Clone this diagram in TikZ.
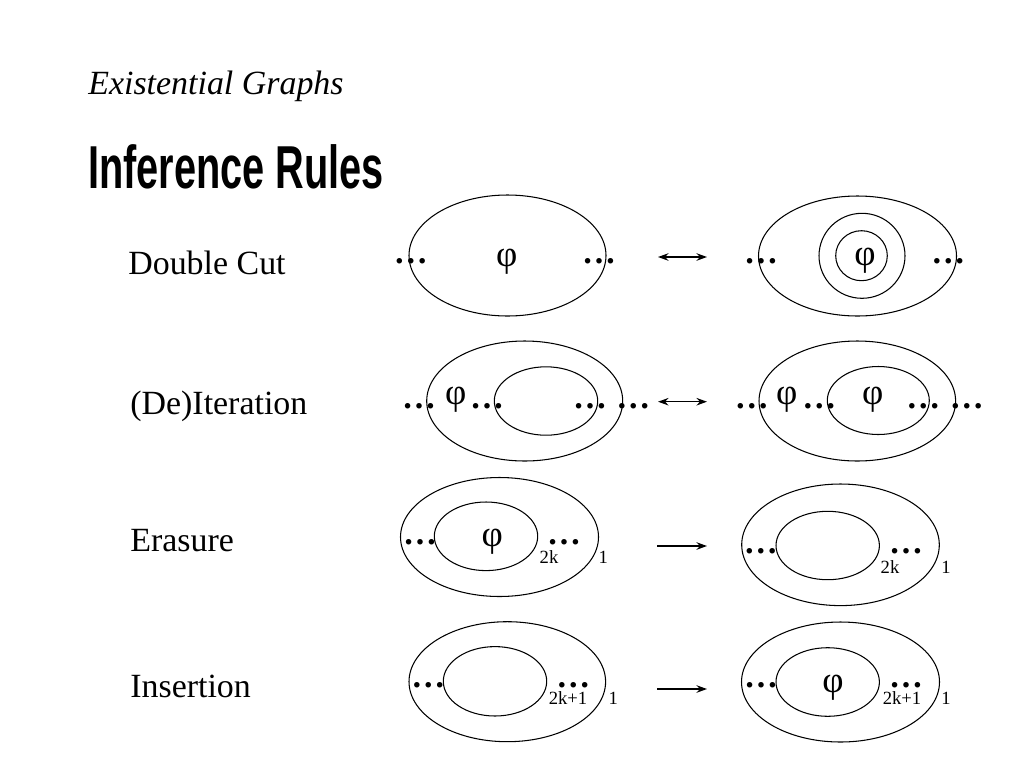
\documentclass[tikz,border=0pt]{standalone}
\usepackage{fontspec}
\setmainfont{Liberation Serif}
\newfontfamily\headfont{Liberation Sans}
\usetikzlibrary{arrows.meta,positioning}
\tikzset{
  cut/.style={line width=0.6pt},
  equiv/.style={{Stealth[length=2.1mm,width=1.5mm]}-{Stealth[length=2.1mm,width=1.5mm]}, line width=0.9pt},
  infer/.style={-{Stealth[length=2.1mm,width=1.5mm]}, line width=0.9pt},
  rulelab/.style={anchor=base west, inner sep=0pt, font=\fontsize{19.3}{23}\selectfont},
  dts/.style={anchor=base, inner sep=0pt, font=\fontsize{19.3}{23}\selectfont\bfseries},
  sym/.style={inner sep=0pt, font=\fontsize{21}{25}\selectfont},
  lvl/.style={anchor=base, inner sep=0pt, font=\fontsize{10.6}{12}\selectfont},
}
\begin{document}
\begin{tikzpicture}[x=0.02cm,y=-0.02cm]
\useasboundingbox (0,0) rectangle (1024,768);

% ============ headings ======================================================
\node[anchor=base west, inner sep=0pt, font=\fontsize{19.3}{23}\selectfont\itshape]
  (ttl) at (88,94) {Existential Graphs};
\node[anchor=base west, inner sep=0pt, font=\fontsize{34.5}{40}\selectfont\headfont\bfseries]
  (hd) at (88,188) {\scalebox{0.655}[1]{Inference Rules}};

% ============ rule names ====================================================
\node[rulelab] (dc) at (128,274) {Double Cut};
\node[rulelab] (it) at (130,414) {(De)Iteration};
\node[rulelab] (er) at (130,551) {Erasure};
\node[rulelab] (in) at (130,697) {Insertion};

% ============ double cut ====================================================
\draw[cut] (507.5,255.5) ellipse [x radius=98.5, y radius=60.5];
\node[sym] (p1) at (506.7,261.7) {φ};
\node[dts] (d1a) at (410.7,263.5) {…};
\node[dts] (d1b) at (599,263.5) {…};
\coordinate (a1s) at (658,257);
\coordinate (a1e) at (707,257);
\draw[equiv] (a1s) -- (a1e);
\draw[cut] (857.5,256) ellipse [x radius=99, y radius=60];
\draw[cut] (862,255.8) ellipse [x radius=43, y radius=42.5];
\draw[cut] (861.5,255.7) ellipse [x radius=25.8, y radius=25];
\node[sym] (p2) at (865,261) {φ};
\node[dts] (d1c) at (761,263.5) {…};
\node[dts] (d1d) at (948.3,263.5) {…};

% ============ (de)iteration =================================================
\draw[cut] (524.7,401) ellipse [x radius=98, y radius=60];
\draw[cut] (546,401) ellipse [x radius=51.7, y radius=34.2];
\node[sym] (p3) at (455.7,400) {φ};
\foreach \x [count=\i] in {419,487,590,633.3}
  \node[dts] (d2l\i) at (\x,408.5) {…};
\coordinate (a2s) at (658,401.7);
\coordinate (a2e) at (707,401.7);
\draw[equiv] (a2s) -- (a2e);
\draw[cut] (857.3,401) ellipse [x radius=98.3, y radius=60];
\draw[cut] (878.3,400.5) ellipse [x radius=51, y radius=34];
\node[sym] (p4) at (786.7,400) {φ};
\node[sym] (p5) at (872.7,400) {φ};
\foreach \x [count=\i] in {751.7,819.3,923.3,966.7}
  \node[dts] (d2r\i) at (\x,408.5) {…};

% ============ erasure =======================================================
\draw[cut] (499.5,537) ellipse [x radius=99, y radius=59.5];
\draw[cut] (486,536.3) ellipse [x radius=51.7, y radius=34.3];
\node[sym] (p6) at (492.3,541.3) {φ};
\node[dts] (d3a) at (420,544) {…};
\node[dts] (d3b) at (564,544) {…};
\node[lvl] (k3a) at (549,563) {2k};
\node[lvl] (o3a) at (603.3,563) {1};
\coordinate (a3s) at (657,546);
\coordinate (a3e) at (707,546);
\draw[infer] (a3s) -- (a3e);
\draw[cut] (840.5,544.8) ellipse [x radius=98.8, y radius=60.8];
\draw[cut] (827.7,545.5) ellipse [x radius=51.7, y radius=34.2];
\node[dts] (d3c) at (760.7,553) {…};
\node[dts] (d3d) at (906,553) {…};
\node[lvl] (k3b) at (890,573) {2k};
\node[lvl] (o3b) at (946,573) {1};

% ============ insertion =====================================================
\draw[cut] (507.3,681.7) ellipse [x radius=98.3, y radius=60];
\draw[cut] (495,681.3) ellipse [x radius=51.7, y radius=34.7];
\node[dts] (d4a) at (428.3,687) {…};
\node[dts] (d4b) at (573.3,687) {…};
\node[lvl] (k4a) at (568,704) {2k+1};
\node[lvl] (o4a) at (613.3,704) {1};
\coordinate (a4s) at (657,689);
\coordinate (a4e) at (707,689);
\draw[infer] (a4s) -- (a4e);
\draw[cut] (840.5,682) ellipse [x radius=99, y radius=60];
\draw[cut] (827.7,682) ellipse [x radius=51.7, y radius=34.3];
\node[sym] (p7) at (833,688) {φ};
\node[dts] (d4c) at (761,687) {…};
\node[dts] (d4d) at (906,687) {…};
\node[lvl] (k4b) at (902,704) {2k+1};
\node[lvl] (o4b) at (946,704) {1};

\end{tikzpicture}
\end{document}
